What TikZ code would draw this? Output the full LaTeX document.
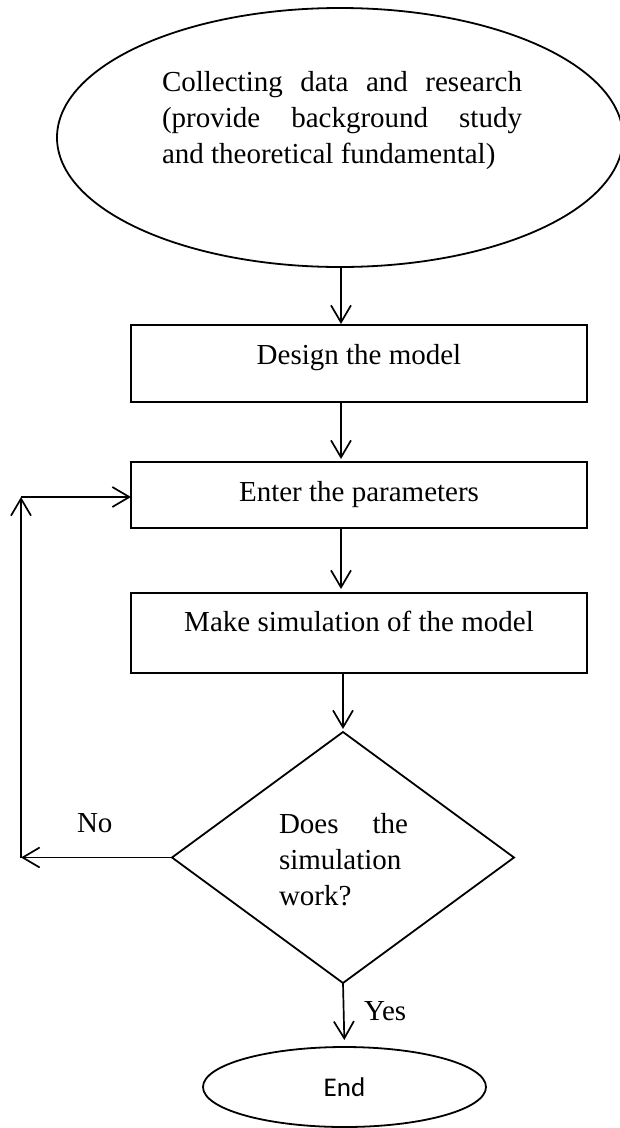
\documentclass[tikz,border=0pt]{standalone}
\usepackage{fontspec}
\setmainfont{Liberation Serif}
\newfontfamily\calibfont{Carlito}
\usetikzlibrary{shapes.geometric,arrows.meta,calc}
\begin{document}
\begin{tikzpicture}[x=1pt,y=-1pt,
  shapeline/.style={draw, line width=1.8pt, inner sep=0pt, outer sep=0pt},
  flowbox/.style={shapeline, rectangle, minimum width=456pt},
  arr/.style={line width=1.7pt, -{Straight Barb[length=17pt,width=20pt]}},
  txt/.style={inner sep=0pt, outer sep=0pt, font=\fontsize{29}{36}\selectfont},
]
\useasboundingbox (0,0) rectangle (620,1128);

% shapes
\node[shapeline, ellipse, minimum width=566pt, minimum height=259pt] (start) at (340,137.5) {};
\node[flowbox, minimum height=77pt] (b1) at (359,363.5) {};
\node[flowbox, minimum height=66pt] (b2) at (359,495) {};
\node[flowbox, minimum height=80pt] (b3) at (359,633) {};
\node[shapeline, diamond, minimum width=342pt, minimum height=251pt] (dec) at (343,857.5) {};
\node[shapeline, ellipse, minimum width=283pt, minimum height=80pt,
      font=\calibfont\fontsize{27}{32}\selectfont] (fin) at (344.5,1087) {End};

% texts
\node[txt, anchor=base west] (t0) at (162,91) {\vtop{\baselineskip=36pt
  \hbox to 360pt{Collecting\hfill data\hfill and\hfill research}
  \hbox to 360pt{(provide\hfill background\hfill study}
  \hbox{and theoretical fundamental)}}};
\node[txt, anchor=base] (t1) at (359,364) {Design the model};
\node[txt, anchor=base] (t2) at (359,501) {Enter the parameters};
\node[txt, anchor=base] (t3) at (359,631) {Make simulation of the model};
\node[txt, anchor=base west] (t4) at (279,833) {\vtop{\baselineskip=36pt
  \hbox to 129pt{Does\hfill the}
  \hbox{simulation}
  \hbox{work?}}};
\node[txt, anchor=base west] (no) at (77,832) {No};
\node[txt, anchor=base west] (yes) at (364,1020) {Yes};

% connectors
\coordinate (spine) at (341,0);
\coordinate (lc) at (21,857.5);
\coordinate (uc) at (21,497);
\draw[arr, shorten >=1pt] (start.south -| spine) -- (b1.north -| spine);
\draw[arr, shorten >=3pt] (b1.south -| spine) -- (b2.north -| spine);
\draw[arr, shorten >=4pt] (b2.south -| spine) -- (b3.north -| spine);
\draw[arr, shorten >=3pt] (b3.south -| dec.north) -- (dec.north);
\draw[arr, shorten >=7pt] (dec.south) -- (fin.north);
\draw[arr] (dec.west) -- (lc);
\draw[arr] (lc) -- (uc);
\draw[arr] (uc) -- (uc -| b2.west);
\end{tikzpicture}
\end{document}
